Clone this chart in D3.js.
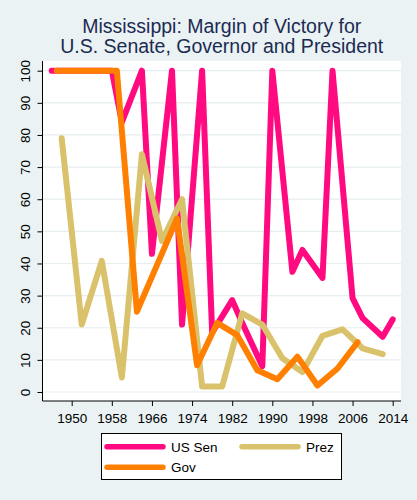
<!DOCTYPE html>
<html>
<head>
<meta charset="utf-8">
<script src="https://cdn.jsdelivr.net/npm/d3@7"></script>
<style>
  html, body { margin: 0; padding: 0; background: #eaf2f3; }
  svg { display: block; font-family: "Liberation Sans", Arial, sans-serif; }
</style>
</head>
<body>
<svg id="chart" width="417" height="500"></svg>
<script>
const titleLines = ["Mississippi: Margin of Victory for", "U.S. Senate, Governor and President"];

const senYears = [1946,1948,1952,1954,1958,1960,1964,1966,1970,1972,1976,1978,1982,1984,1988,1990,1994,1996,2000,2002,2006,2008,2012,2014];
const senVals  = [100,100,100,100,100,84,100,43,100,21,100,18.5,28.6,21.5,8,100,37.4,44.2,35.5,100,29.2,23,17.2,22.6];

const prezYears = [1948,1952,1956,1960,1964,1968,1972,1976,1980,1984,1988,1992,1996,2000,2004,2008,2012];
const prezVals  = [79,21,40.8,4.5,74,47,60,1.7,1.7,24.5,21,10.5,6.2,17.5,19.5,13.6,11.8];

const govYears = [1947,1951,1955,1959,1963,1967,1971,1975,1979,1983,1987,1991,1995,1999,2003,2007];
const govVals  = [100,100,100,100,25,39.5,54,8.3,21.5,17.7,6.8,4,11,2,7.3,15.5];

const xTicks = [1950,1958,1966,1974,1982,1990,1998,2006,2014];
const yTicks = [0,10,20,30,40,50,60,70,80,90,100];

const seriesNames = ["US Sen", "Prez", "Gov"];
const seriesColors = ["#ff0a80", "#d9c26b", "#ff8000"];

const svg = d3.select("#chart");
const W = 417, H = 500;
svg.append("rect").attr("width", W).attr("height", H).attr("fill", "#eaf2f3");

const plot = { left: 42.5, right: 401, top: 61, bottom: 401 };
svg.append("rect")
  .attr("x", plot.left).attr("y", plot.top)
  .attr("width", plot.right - plot.left).attr("height", plot.bottom - plot.top)
  .attr("fill", "#ffffff");

const x = d3.scaleLinear().domain([1950, 2014]).range([71.7, 392.7]);
const y = d3.scaleLinear().domain([0, 100]).range([392, 70.7]);

// gridlines
svg.append("g").selectAll("line").data(yTicks).join("line")
  .attr("x1", plot.left).attr("x2", plot.right)
  .attr("y1", d => y(d)).attr("y2", d => y(d))
  .attr("stroke", "#e6eef0").attr("stroke-width", 1.2);

// title
svg.append("g").selectAll("text").data(titleLines).join("text")
  .attr("x", (plot.left + plot.right) / 2)
  .attr("y", (d, i) => 33 + i * 20)
  .attr("text-anchor", "middle")
  .attr("font-size", 19.5)
  .attr("fill", "#1c2b52")
  .text(d => d);

// lines
const series = [
  { years: senYears, vals: senVals },
  { years: prezYears, vals: prezVals },
  { years: govYears, vals: govVals }
];
const line = d3.line().x(d => x(d[0])).y(d => y(d[1]));
series.forEach((s, i) => {
  const pts = s.years.map((yr, j) => [yr, s.vals[j]]);
  svg.append("path")
    .attr("d", line(pts))
    .attr("fill", "none")
    .attr("stroke", seriesColors[i])
    .attr("stroke-width", 6)
    .attr("stroke-linejoin", "round")
    .attr("stroke-linecap", "round");
});

// y axis
const yAxis = d3.axisLeft(y).tickValues(yTicks).tickSize(5).tickPadding(0).tickFormat(d3.format("d"));
const gy = svg.append("g").attr("transform", `translate(${plot.left},0)`).call(yAxis);
gy.select(".domain").attr("d", `M0,${plot.top}V${plot.bottom}`).attr("stroke", "#000");
gy.selectAll(".tick line").attr("stroke", "#000");
gy.selectAll(".tick text")
  .attr("x", null).attr("dy", null)
  .attr("text-anchor", "middle")
  .attr("transform", "translate(-12.5,0) rotate(-90)")
  .attr("font-size", 13.5)
  .attr("font-family", "Liberation Sans, Arial, sans-serif")
  .attr("fill", "#000");

// x axis
const xAxis = d3.axisBottom(x).tickValues(xTicks).tickSize(5).tickPadding(0).tickFormat(d3.format("d"));
const gx = svg.append("g").attr("transform", `translate(0,${plot.bottom})`).call(xAxis);
gx.select(".domain").attr("d", `M${plot.left},0H${plot.right}`).attr("stroke", "#000");
gx.selectAll(".tick line").attr("stroke", "#000");
gx.selectAll(".tick text")
  .attr("y", 22).attr("dy", null)
  .attr("font-size", 13.5)
  .attr("font-family", "Liberation Sans, Arial, sans-serif")
  .attr("fill", "#000");

// legend
const lg = svg.append("g");
lg.append("rect").attr("x", 101.5).attr("y", 433.5).attr("width", 240).attr("height", 46)
  .attr("fill", "#fff").attr("stroke", "#000").attr("stroke-width", 1);
const legPos = [
  { x: 107, y: 446.7 },
  { x: 242, y: 446.7 },
  { x: 107, y: 467.3 }
];
seriesNames.forEach((name, i) => {
  const p = legPos[i];
  lg.append("line")
    .attr("x1", p.x).attr("x2", p.x + 56)
    .attr("y1", p.y).attr("y2", p.y)
    .attr("stroke", seriesColors[i]).attr("stroke-width", 5.5)
    .attr("stroke-linecap", "round");
  lg.append("text")
    .attr("x", p.x + 64).attr("y", p.y + 5)
    .attr("font-size", 13.5)
    .attr("fill", "#000")
    .text(name);
});
</script>
</body>
</html>
